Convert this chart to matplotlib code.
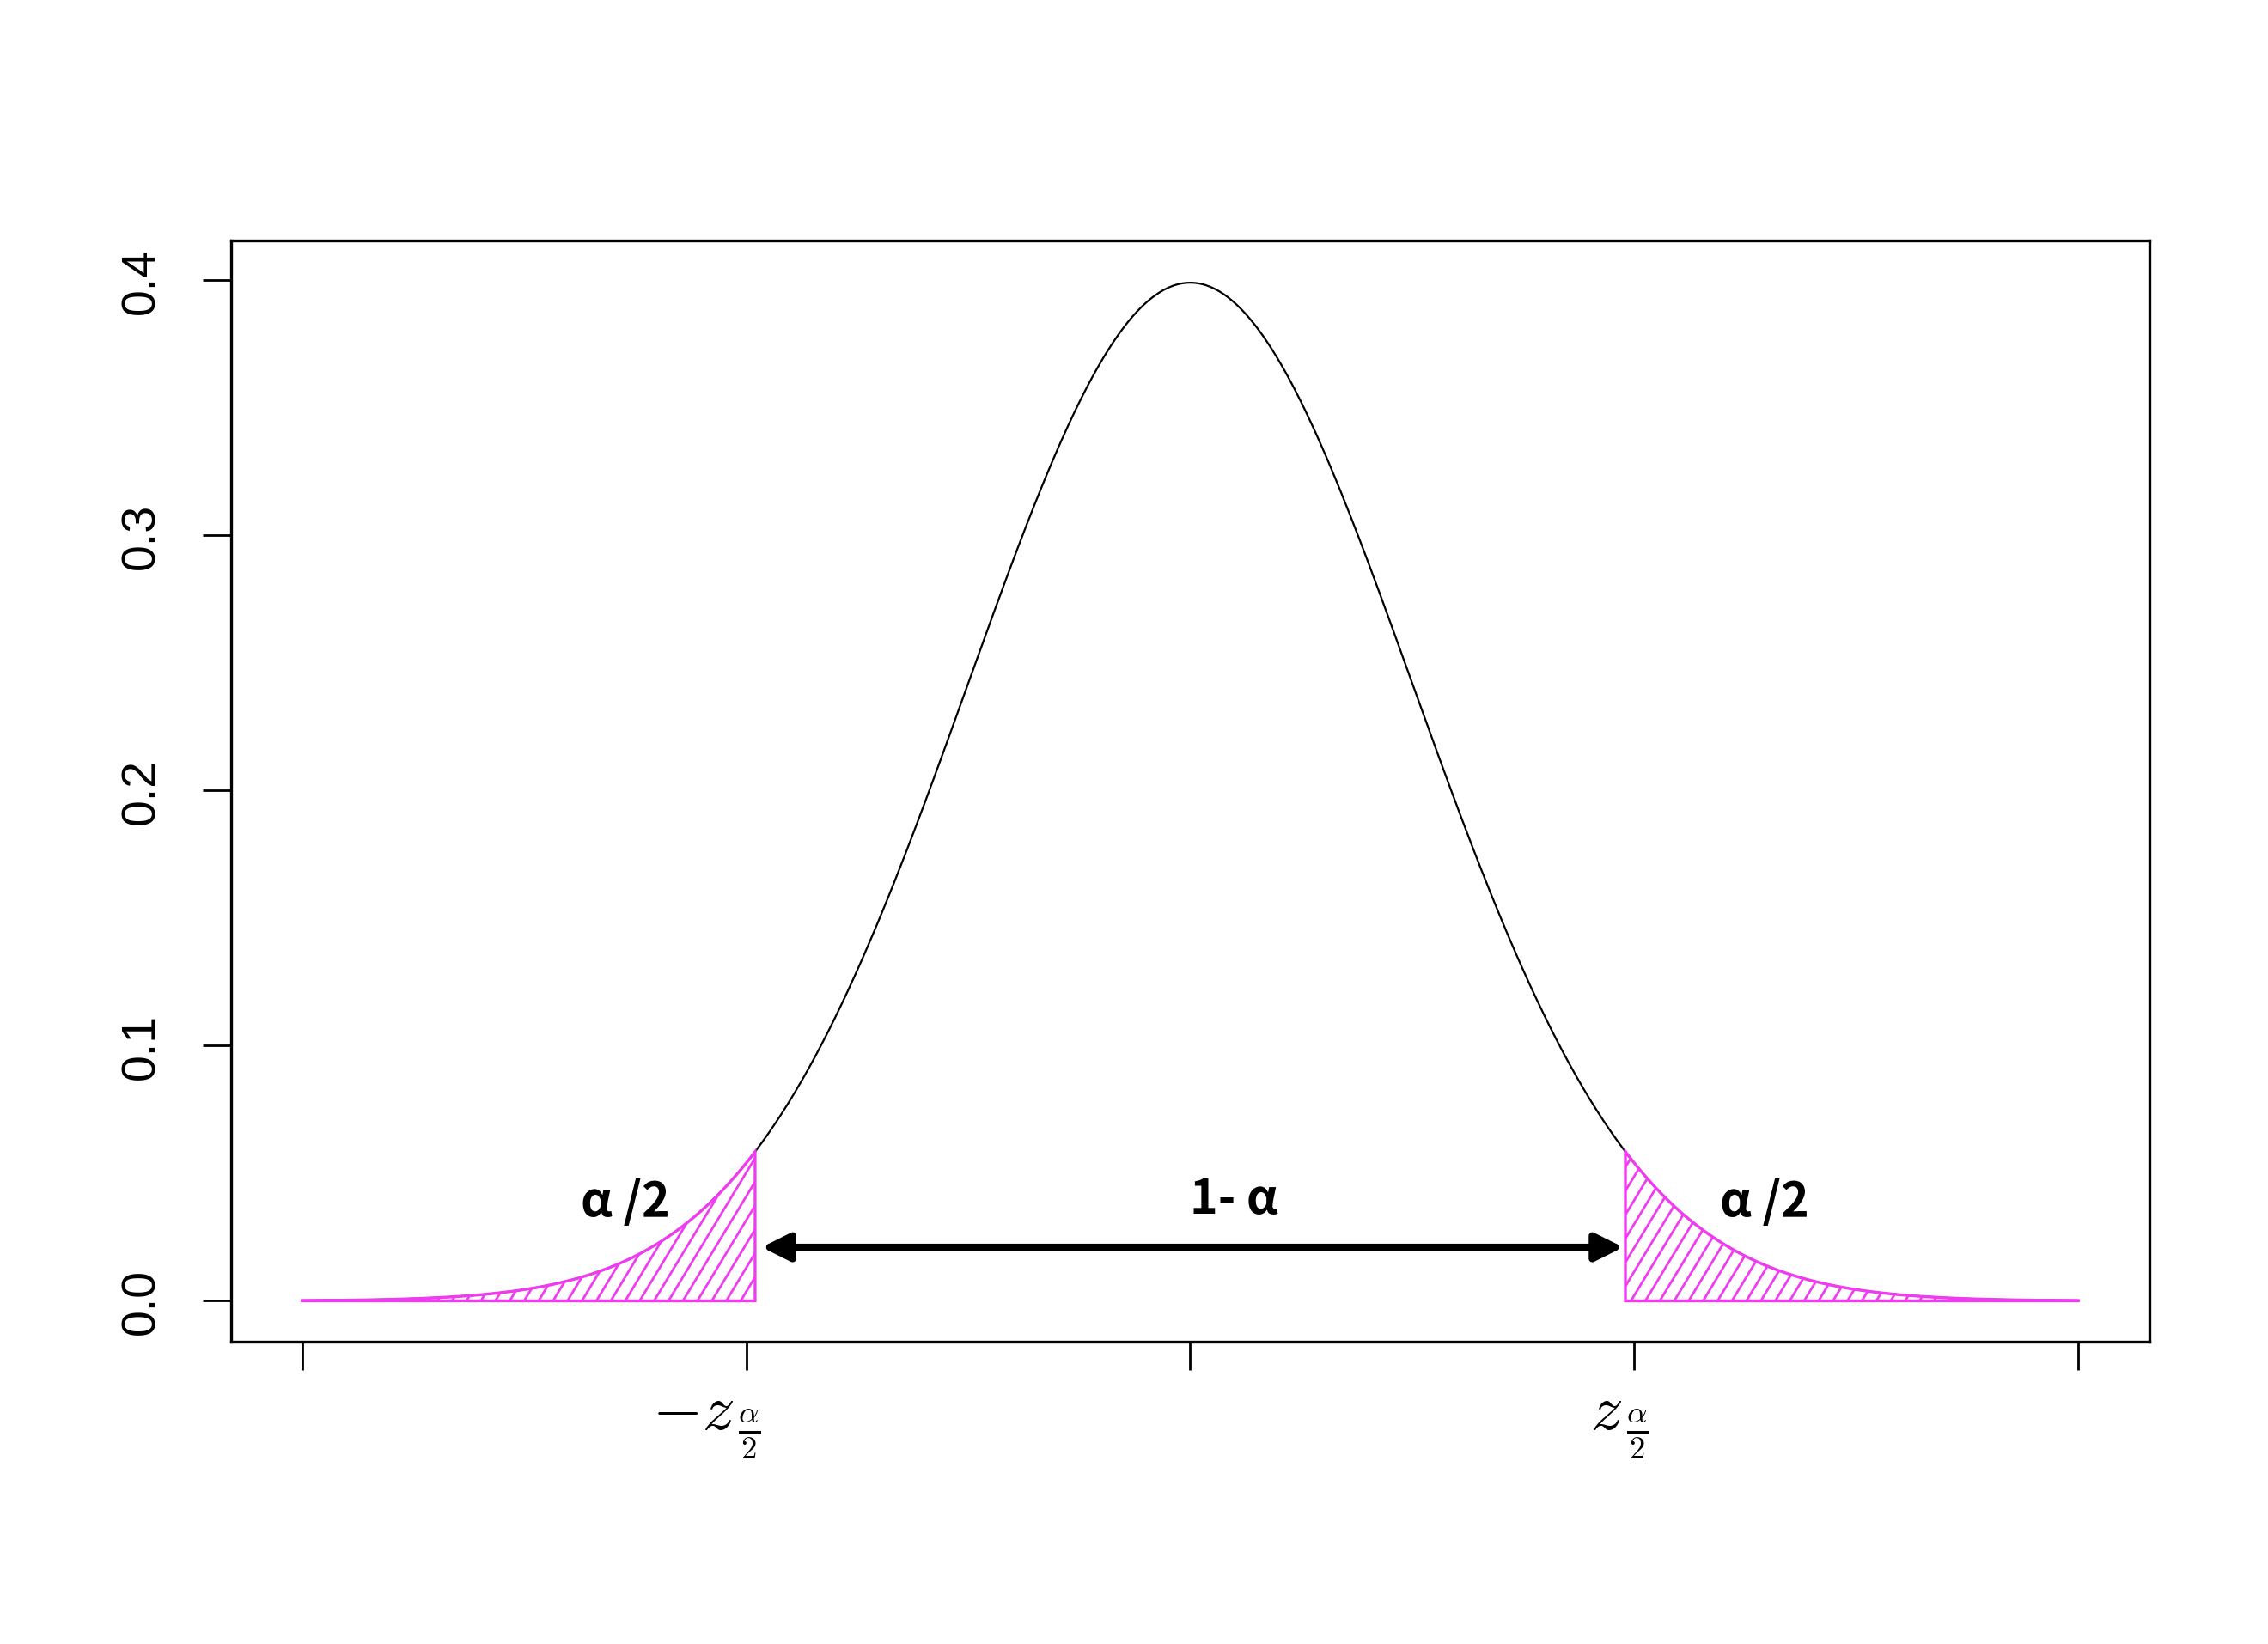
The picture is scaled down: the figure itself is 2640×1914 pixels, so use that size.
import numpy as np
import matplotlib.pyplot as plt
import matplotlib.transforms as mtransforms
from matplotlib.patches import Polygon
from matplotlib.collections import LineCollection

plt.rcParams['font.family'] = ['Liberation Sans', 'DejaVu Sans']
plt.rcParams['mathtext.fontset'] = 'cm'

# standard normal density, two-sided critical value
mu = 0.0
sigma = 1.0
z_crit = 1.96
x_min, x_max = -4.0, 4.0

x_ticks = [-4, -2, 0, 2, 4]
x_labels = ['', r'$-z_{\,\frac{\alpha}{2}}$', '', r'$z_{\,\frac{\alpha}{2}}$', '']
y_ticks = [0.0, 0.1, 0.2, 0.3, 0.4]
y_labels = ['0.0', '0.1', '0.2', '0.3', '0.4']

arrow_y = 0.021
tail_text = 'α /2'
center_text = '1- α'
mag = '#f03cf0'


def density(v):
    return np.exp(-0.5 * ((v - mu) / sigma) ** 2) / (sigma * np.sqrt(2 * np.pi))


x = np.linspace(x_min, x_max, 801)

fig = plt.figure(figsize=(13.2, 9.575), dpi=200)
ax = fig.add_axes([0.1019, 0.1838, 0.8458, 0.6695])
ax.set_xlim(-4.32, 4.32)
ax.set_ylim(-0.016, 0.4155)

ax.plot(x, density(x), color='black', lw=0.8)

# pixel scale of the data axes, used for the hatch lines
p0 = ax.transData.transform((0, 0))
p1 = ax.transData.transform((1, 1))
sx, sy = p1 - p0
step = 16.8 / sx                       # horizontal gap between hatch lines
slope = 1.65 * sx / sy                 # about 59 degrees on screen
top = 0.07

# shaded tails
tails = [np.linspace(x_min, -z_crit, 300), np.linspace(z_crit, x_max, 300)]
for xs in tails:
    verts = [(xs[0], 0)] + list(zip(xs, density(xs))) + [(xs[-1], 0)]
    poly = Polygon(verts, closed=True, facecolor='none', edgecolor=mag,
                   lw=1.2, zorder=3)
    ax.add_patch(poly)
    starts = np.arange(xs[-1], xs[0] - top / slope - step, -step)
    segs = [[(s, 0), (s + top / slope, top)] for s in starts]
    lc = LineCollection(segs, colors=mag, lw=1.0, zorder=2.5)
    ax.add_collection(lc)
    lc.set_clip_path(poly)

ax.annotate('', xy=(1.95, arrow_y), xytext=(-1.93, arrow_y),
            arrowprops=dict(arrowstyle='<|-|>', color='black', lw=3,
                            mutation_scale=24, shrinkA=0, shrinkB=0))

lab_font = ['Noto Sans CJK JP', 'DejaVu Sans']
ax.text(-2.545, 0.039, tail_text, ha='center', va='center', fontsize=20,
        fontweight='bold', family=lab_font)
ax.text(2.588, 0.039, tail_text, ha='center', va='center', fontsize=20,
        fontweight='bold', family=lab_font)
ax.text(0.197, 0.040, center_text, ha='center', va='center', fontsize=20,
        fontweight='bold', family=lab_font)

ax.set_xticks(x_ticks, x_labels)
ax.set_yticks(y_ticks, y_labels, rotation=90, va='center')
ax.tick_params(axis='both', length=12, width=1.0, pad=16, labelsize=20)
ax.tick_params(axis='x', labelsize=27, pad=12)
shift = mtransforms.ScaledTranslation(6 / 72, 0, fig.dpi_scale_trans)
for lab in ax.get_xticklabels():
    lab.set_horizontalalignment('right')
    lab.set_transform(lab.get_transform() + shift)
for s in ax.spines.values():
    s.set_linewidth(1.2)

fig.savefig('out.png', dpi=200)
